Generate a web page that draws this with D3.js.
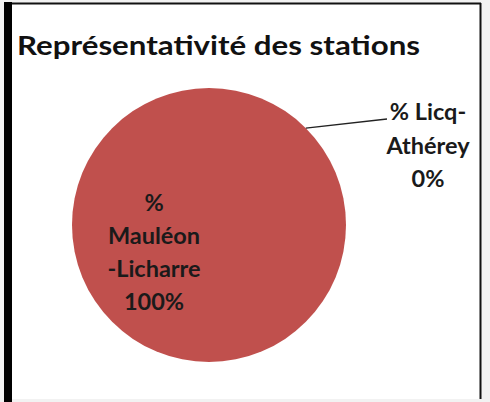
<!DOCTYPE html>
<html>
<head>
<meta charset="utf-8">
<script src="https://cdn.jsdelivr.net/npm/d3@7"></script>
<style>
  body { margin: 0; background: #f2f2f2; }
  svg { display: block; }
</style>
</head>
<body>
<svg id="chart" width="490" height="402"></svg>
<script>
// data
var stations = ["% Mauléon-Licharre", "% Licq-Athérey"];
var shares = [100, 0];
var labelLines = [["%", "Mauléon", "-Licharre", "100%"], ["% Licq-", "Athérey", "0%"]];
var title = "Représentativité des stations";

var svg = d3.select("#chart"),
    width = +svg.attr("width"),
    height = +svg.attr("height");

// frame of the chart area
svg.append("rect")
    .attr("x", 8).attr("y", 3)
    .attr("width", 473).attr("height", 396)
    .attr("fill", "#ffffff");
svg.append("line")
    .attr("x1", 8).attr("x2", 481).attr("y1", 3.5).attr("y2", 3.5)
    .attr("stroke", "#111").attr("stroke-width", 2);
svg.append("line")
    .attr("x1", 480.5).attr("x2", 480.5).attr("y1", 3).attr("y2", 399)
    .attr("stroke", "#111").attr("stroke-width", 2);
svg.append("line")
    .attr("x1", 8).attr("x2", 8).attr("y1", 2).attr("y2", 402)
    .attr("stroke", "#000").attr("stroke-width", 8);

var font = "Lato, 'Open Sans', sans-serif";

svg.append("text")
    .attr("x", 17).attr("y", 55)
    .attr("font-family", font)
    .attr("font-weight", 700)
    .attr("font-size", 26)
    .attr("textLength", 403)
    .attr("lengthAdjust", "spacingAndGlyphs")
    .attr("fill", "#111")
    .text(title);

var cx = 209, cy = 225, r = 137;

var pie = d3.pie().sort(null).value(function(d) { return d; });
var arc = d3.arc().innerRadius(0).outerRadius(r);
var arcs = pie(shares);

var g = svg.append("g").attr("transform", "translate(" + cx + "," + cy + ")");

g.selectAll("path")
    .data(arcs)
    .enter()
    .append("path")
    .attr("d", arc)
    .attr("fill", "#c0504d");

// label inside the big slice
var inner = g.append("text")
    .attr("font-family", font)
    .attr("font-weight", 700)
    .attr("font-size", 23.5)
    .attr("fill", "#1a1a1a")
    .attr("text-anchor", "middle");
labelLines[0].forEach(function(t, i) {
  inner.append("tspan")
      .attr("x", -55)
      .attr("y", -14 + i * 33)
      .text(t);
});

// leader for the 0% slice
var leadAngle = Math.PI / 4;
var p0 = [Math.sin(leadAngle) * r, -Math.cos(leadAngle) * r];
g.append("line")
    .attr("x1", p0[0]).attr("y1", p0[1])
    .attr("x2", 178).attr("y2", -106)
    .attr("stroke", "#222").attr("stroke-width", 1.5);

var outer = g.append("text")
    .attr("font-family", font)
    .attr("font-weight", 700)
    .attr("font-size", 23.5)
    .attr("fill", "#1a1a1a")
    .attr("text-anchor", "middle");
labelLines[1].forEach(function(t, i) {
  outer.append("tspan")
      .attr("x", 219)
      .attr("y", -105 + i * 33.5)
      .text(t);
});
</script>
</body>
</html>
